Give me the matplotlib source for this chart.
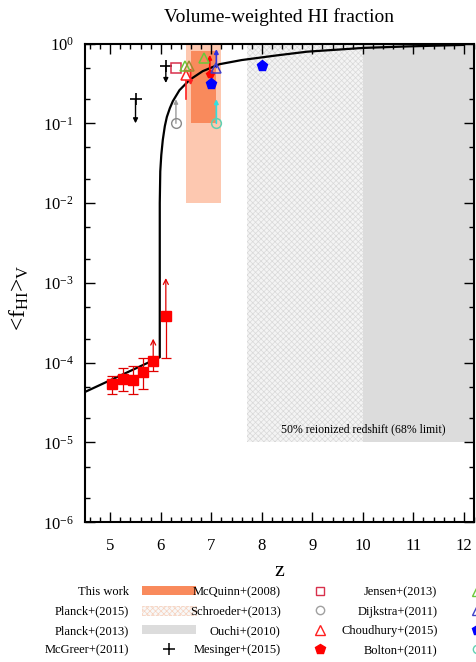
import numpy as np
import matplotlib
matplotlib.use("Agg")
import matplotlib.pyplot as plt
from matplotlib.patches import Patch
from matplotlib.lines import Line2D
from matplotlib.ticker import LogLocator, MultipleLocator, FixedLocator, NullFormatter

plt.rcParams['font.family'] = ['Liberation Serif', 'DejaVu Serif']
plt.rcParams['mathtext.fontset'] = 'custom'
plt.rcParams['mathtext.rm'] = 'Liberation Serif'
plt.rcParams['mathtext.it'] = 'Liberation Serif:italic'
plt.rcParams['mathtext.bf'] = 'Liberation Serif:bold'
plt.rcParams['hatch.linewidth'] = 0.5

# ---------------- data ----------------
# model curve: volume-weighted neutral fraction vs redshift
curve_z = [4.5, 5.98, 5.98, 5.99, 6.01, 6.04, 6.08, 6.12, 6.18, 6.24, 6.37,
           6.57, 6.83, 7.16, 7.6, 8.3, 8.9, 10.0, 10.9, 12.0]
curve_f = [4.3e-5, 1.17e-4, 1.0e-2, 2.5e-2, 4.0e-2, 6.2e-2, 9.2e-2, 0.12, 0.155,
           0.19, 0.26, 0.35, 0.45, 0.55, 0.62, 0.71, 0.79, 0.88, 0.92, 0.96]

# shaded constraints (z range, f range)
this_work_z = (6.6, 7.1)
this_work_f = (0.1, 0.8)
mcquinn_z = (6.5, 7.2)
mcquinn_f = (0.01, 1.0)
planck15_z = (7.7, 10.0)
planck13_z = (10.0, 12.2)
planck_f = (1e-5, 1.0)

# Gunn-Peterson measurements (red squares)
gp_z = [5.03, 5.25, 5.45, 5.65, 5.85, 6.10]
gp_f = [5.4e-5, 6.3e-5, 6.0e-5, 7.7e-5, 1.06e-4, 3.9e-4]
gp_lo = [4.1e-5, 4.4e-5, 4.0e-5, 4.7e-5, 7.9e-5, 1.14e-4]
gp_hi = [6.8e-5, 8.7e-5, 9.0e-5, 1.15e-4, 1.06e-4, 3.9e-4]
gp_limit_top = [None, None, None, None, 2.0e-4, 1.15e-3]

# McGreer+(2011) upper limits
mcgreer_z = [5.5, 6.1]
mcgreer_f = [0.2, 0.53]
mcgreer_end = [0.1, 0.32]

# McQuinn+(2008)
mcq_pt_z = [6.3]
mcq_pt_f = [0.5]

# Schroeder+(2013) lower limit
schroeder_z = [6.3]
schroeder_f = [0.1]
schroeder_end = [0.2]

# Ouchi+(2010)
ouchi_z = [6.5]
ouchi_f = [0.40]
ouchi_low = [0.2]
ouchi_arrow_z = [6.59]
ouchi_arrow_from = [0.47]
ouchi_arrow_to = [0.30]

# Jensen+(2013)
jensen_z = [6.48, 6.86]
jensen_f = [0.52, 0.65]
olive_z = [6.56]
olive_f = [0.52]

# Mesinger+(2015) lower limit
mesinger_z = [6.97]
mesinger_f = [0.42]
mesinger_end = [0.72]

# Dijkstra+(2011)
dijkstra_z = [7.1]
dijkstra_f = [0.5]
dijkstra_end = [0.85]

# Choudhury+(2015)
choudhury_z = [6.99, 8.0]
choudhury_f = [0.31, 0.52]

# Bolton+(2011)
bolton_z = [7.1]
bolton_f = [0.1]
bolton_end = [0.2]

x_ticks = [5, 6, 7, 8, 9, 10, 11, 12]

# ---------------- figure ----------------
W, H = 477, 662
fig = plt.figure(figsize=(W / 100, H / 100), dpi=100)
ax = fig.add_axes([85 / W, (H - 522.3) / H, (474 - 85) / W, (522.3 - 43.5) / H])
ax.set_yscale('log')
ax.set_xlim(4.5, 12.2)
ax.set_ylim(1e-6, 1.0)

# shaded regions
ax.fill_between(planck15_z, planck_f[0], planck_f[1], facecolor='#f4f4f4',
                edgecolor='#d9d9d9', hatch='xxxxxx', linewidth=0, zorder=0)
ax.fill_between(planck13_z, planck_f[0], planck_f[1], facecolor='#dcdcdc',
                linewidth=0, zorder=0)
ax.fill_between(mcquinn_z, mcquinn_f[0], mcquinn_f[1], facecolor='#fdc8b0',
                linewidth=0, zorder=1)
ax.fill_between(this_work_z, this_work_f[0], this_work_f[1], facecolor='#f98a5c',
                linewidth=0, zorder=1)
ax.text(10.0, 1.45e-5, '50% reionized redshift (68% limit)', ha='center',
        va='center', fontsize=8.5, zorder=2)

# model curve
ax.plot(curve_z, curve_f, color='black', lw=1.6, zorder=3)


def arrow(z, f0, f1, color, style='-|>', lw=1.0, scale=7):
    ax.annotate('', xy=(z, f1), xytext=(z, f0),
                arrowprops=dict(arrowstyle=style, color=color, lw=lw,
                                shrinkA=0, shrinkB=0, mutation_scale=scale),
                zorder=4)


# Gunn-Peterson points
for z, f, lo, hi, top in zip(gp_z, gp_f, gp_lo, gp_hi, gp_limit_top):
    ax.errorbar([z], [f], yerr=[[f - lo], [hi - f]], fmt='none', ecolor='#e00000',
                elinewidth=0.9, capsize=3.5, capthick=0.9, zorder=4)
    if top is not None:
        arrow(z, f, top, '#e00000', style='->', scale=9, lw=0.9)
ax.plot(gp_z, gp_f, 's', color='#ff0000', ms=6.5, mec='#ff0000', zorder=5)

# McGreer
for z, f, e in zip(mcgreer_z, mcgreer_f, mcgreer_end):
    arrow(z, f, e, 'black', style='-|>', scale=7)
ax.plot(mcgreer_z, mcgreer_f, '+', color='black', ms=9, mew=1.2, zorder=5)

# McQuinn point
ax.plot(mcq_pt_z, mcq_pt_f, 's', mfc='none', mec='#d8304c', ms=7, mew=1.1, zorder=5)

# Schroeder
for z, f, e in zip(schroeder_z, schroeder_f, schroeder_end):
    arrow(z, f, e, '#9a9a9a', scale=6)
ax.plot(schroeder_z, schroeder_f, 'o', mfc='none', mec='#8a8a8a', ms=7, mew=1.0, zorder=5)

# Ouchi
for z, f, lo in zip(ouchi_z, ouchi_f, ouchi_low):
    ax.plot([z, z], [lo, f], color='#ff2020', lw=1.2, zorder=4)
ax.plot(ouchi_z, ouchi_f, '^', mfc='white', mec='#ff2020', ms=7.5, mew=1.1, zorder=5)
for z, a, b in zip(ouchi_arrow_z, ouchi_arrow_from, ouchi_arrow_to):
    arrow(z, a, b, '#ff2020', scale=6, lw=1.2)

# Jensen
ax.plot(jensen_z, jensen_f, '^', mfc='none', mec='#6cc83a', ms=7.5, mew=1.1, zorder=5)
ax.plot(olive_z, olive_f, '^', mfc='none', mec='#a08a30', ms=7.5, mew=1.1, zorder=5)

# Mesinger
for z, f, e in zip(mesinger_z, mesinger_f, mesinger_end):
    arrow(z, f, e, '#ff0000', scale=6, lw=1.2)
ax.plot(mesinger_z, mesinger_f, 'p', color='#ff0000', ms=6, zorder=5)

# Dijkstra
for z, f, e in zip(dijkstra_z, dijkstra_f, dijkstra_end):
    arrow(z, f, e, '#3030e0', scale=6, lw=1.2)
ax.plot(dijkstra_z, dijkstra_f, '^', mfc='none', mec='#4040c8', ms=7.5, mew=1.1, zorder=5)

# Choudhury
ax.plot(choudhury_z, choudhury_f, 'p', color='#0000ff', ms=8, zorder=5)

# Bolton
for z, f, e in zip(bolton_z, bolton_f, bolton_end):
    arrow(z, f, e, '#30e0e0', scale=6, lw=1.2)
ax.plot(bolton_z, bolton_f, 'o', mfc='none', mec='#60d0b0', ms=7, mew=1.1, zorder=5)

# axes styling
for s in ax.spines.values():
    s.set_linewidth(1.5)
ax.xaxis.set_major_locator(FixedLocator(x_ticks))
ax.xaxis.set_minor_locator(MultipleLocator(0.2))
ax.yaxis.set_major_locator(LogLocator(base=10, numticks=10))
ax.yaxis.set_minor_locator(LogLocator(base=10, subs=(2.0, 5.0), numticks=10))
ax.yaxis.set_minor_formatter(NullFormatter())
ax.tick_params(which='both', direction='in', top=True, right=True, width=1.0)
ax.tick_params(which='major', length=7, labelsize=12)
ax.tick_params(axis='x', which='major', pad=11)
ax.tick_params(axis='y', which='major', pad=8)
ax.tick_params(which='minor', length=3.5)

ax.set_ylabel(r'<f$_{\mathrm{HI}}$>$_{\mathrm{V}}$', fontsize=17)
ax.yaxis.set_label_coords(-0.14, 0.47)

fig.text(279.5 / W, 1 - 17 / H, 'Volume-weighted HI fraction', ha='center',
         va='center', fontsize=14)
fig.text(279.5 / W, 1 - 572 / H, 'z', ha='center', va='center', fontsize=16)

# legend below the axes
handles = [
    Patch(facecolor='#f98a5c', edgecolor='none'),
    Patch(facecolor='#f8f8f8', edgecolor='#f6d2bf', hatch='xxxxxx', linestyle='--', linewidth=0.6),
    Patch(facecolor='#dcdcdc', edgecolor='none'),
    Line2D([], [], marker='+', color='black', ls='none', ms=8, mew=1.1),
    Line2D([], [], marker='s', mfc='none', mec='#d8304c', ls='none', ms=6, mew=1.0),
    Line2D([], [], marker='o', mfc='none', mec='#a0a0a0', ls='none', ms=6, mew=1.0),
    Line2D([], [], marker='^', mfc='none', mec='#ff2020', ls='none', ms=7, mew=1.0),
    Line2D([], [], marker='p', color='#ff0000', ls='none', ms=7),
    Line2D([], [], marker='^', mfc='none', mec='#6cc83a', ls='none', ms=7, mew=1.0),
    Line2D([], [], marker='^', mfc='none', mec='#4040c8', ls='none', ms=7, mew=1.0),
    Line2D([], [], marker='p', color='#0000ff', ls='none', ms=7),
    Line2D([], [], marker='o', mfc='none', mec='#60d0b0', ls='none', ms=6, mew=1.0),
]
labels = ['This work', 'Planck+(2015)', 'Planck+(2013)', 'McGreer+(2011)',
          'McQuinn+(2008)', 'Schroeder+(2013)', 'Ouchi+(2010)', 'Mesinger+(2015)',
          'Jensen+(2013)', 'Dijkstra+(2011)', 'Choudhury+(2015)', 'Bolton+(2011)']
fig.legend(handles, labels, ncol=3, markerfirst=False, frameon=False,
           fontsize=9, handlelength=4.25, handletextpad=1.04, columnspacing=-0.45,
           labelspacing=0.6, borderpad=0, borderaxespad=0, numpoints=1,
           loc='upper left', bbox_to_anchor=(45 / W, 1 - 586 / H))

fig.savefig('out.png', dpi=100)
